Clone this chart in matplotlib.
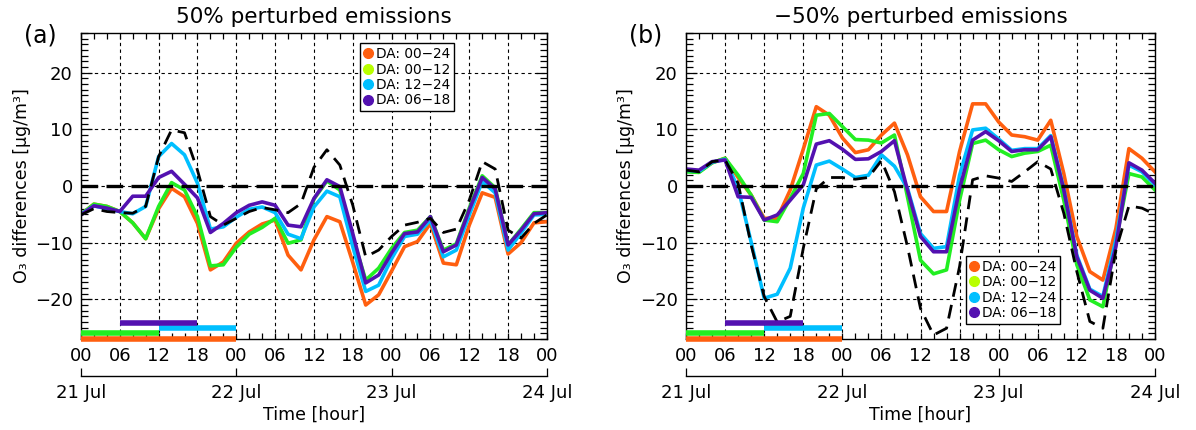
import matplotlib.pyplot as plt
from matplotlib.lines import Line2D
from matplotlib.ticker import MultipleLocator

# time axis, every 2 hours from 21 Jul 00:00
hours = list(range(0, 73, 2))

# (a) +50% perturbed emissions
orange_a = [-5.0, -3.2, -3.6, -4.5, -6.5, -9.3, -4.0, -0.4, -1.9, -6.6, -14.8, -13.4, -10.1,
            -8.1, -6.7, -6.0, -12.2, -14.8, -9.5, -5.4, -6.3, -13.5, -21.0, -19.2, -15.0,
            -10.7, -9.8, -6.6, -13.6, -13.9, -6.9, -1.2, -2.0, -12.0, -10.0, -6.5, -6.3]
green_a = [-5.0, -3.2, -3.6, -4.5, -6.5, -9.3, -3.6, 0.6, -0.7, -5.4, -14.1, -13.9, -10.8,
           -8.5, -7.3, -5.7, -10.1, -9.5, -2.3, 0.9, -0.7, -9.0, -16.6, -14.5, -11.0,
           -8.2, -7.8, -5.4, -11.3, -10.2, -3.9, 1.8, -0.3, -10.4, -7.6, -4.7, -4.7]
cyan_a = [-5.0, -3.5, -4.0, -4.5, -4.9, -3.6, 5.2, 7.5, 5.5, 0.5, -7.6, -7.2, -5.5,
          -4.1, -3.7, -4.7, -8.5, -9.3, -3.7, -0.9, -1.9, -10.7, -18.6, -17.5, -12.8,
          -8.9, -8.5, -6.0, -12.5, -11.3, -5.1, 0.8, -1.2, -11.3, -8.3, -5.1, -5.0]
purple_a = [-5.1, -3.5, -3.9, -4.5, -1.8, -1.8, 1.5, 2.6, 0.3, -2.1, -8.2, -6.6, -4.7,
            -3.4, -2.8, -3.4, -6.9, -7.2, -2.2, 1.1, -0.1, -8.4, -17.1, -15.7, -11.8,
            -8.4, -8.1, -5.4, -11.6, -10.4, -4.2, 1.5, -0.5, -10.4, -7.8, -4.9, -4.7]
dashed_a = [-5.1, -4.0, -4.5, -4.7, -4.8, -3.6, 5.2, 9.9, 9.4, 2.8, -5.4, -6.9, -5.7,
            -4.5, -3.8, -4.2, -4.7, -3.1, 3.3, 6.4, 3.7, -3.4, -12.5, -11.3, -8.9,
            -6.9, -6.4, -5.7, -8.2, -7.6, -2.5, 4.3, 3.0, -7.8, -9.2, -6.6, -5.1]

# (b) -50% perturbed emissions
orange_b = [2.8, 2.5, 4.1, 4.9, 1.5, -1.6, -5.7, -5.7, -0.7, 6.5, 14.0, 12.5, 8.5,
            5.9, 6.4, 9.0, 11.1, 5.5, -1.9, -4.5, -4.5, 6.1, 14.5, 14.5, 11.3,
            9.0, 8.7, 8.1, 11.6, 2.2, -8.9, -15.1, -16.6, -7.5, 6.6, 4.9, 2.5]
green_b = [2.5, 2.4, 4.1, 4.9, 1.9, -1.6, -6.0, -6.3, -2.2, 2.2, 12.5, 12.8, 10.5,
           8.2, 8.1, 7.6, 9.0, -1.9, -13.1, -15.5, -14.8, -2.5, 7.5, 8.1, 6.4,
           5.2, 5.8, 6.1, 7.2, -2.5, -13.9, -20.1, -21.3, -9.8, 2.2, 1.6, -0.7]
cyan_b = [2.8, 2.6, 4.2, 4.7, -0.4, -9.9, -19.8, -19.1, -14.5, -3.9, 3.7, 4.4, 3.0,
          1.5, 1.9, 5.5, 3.5, -0.4, -8.4, -11.0, -10.7, 1.9, 9.9, 10.2, 8.3,
          6.3, 6.6, 6.6, 8.9, -0.5, -12.2, -18.2, -19.5, -9.5, 3.7, 2.5, 0.2]
purple_b = [3.0, 2.8, 4.3, 4.6, -1.9, -2.0, -6.0, -5.1, -2.5, 0.2, 7.4, 8.0, 6.5,
            4.7, 4.8, 6.1, 8.0, -0.7, -8.9, -11.6, -11.6, -0.5, 8.1, 9.6, 8.0,
            6.1, 6.4, 6.4, 8.7, -0.7, -12.5, -18.4, -19.8, -10.7, 4.1, 2.8, 0.5]
dashed_b = [2.8, 2.5, 4.3, 4.6, 0.5, -10.4, -19.5, -24.0, -23.0, -11.0, -0.5, 1.5, 1.5,
            1.2, 1.5, 4.5, -1.0, -10.7, -21.6, -26.3, -25.1, -14.2, 1.1, 1.8, 1.4,
            0.8, 2.5, 4.3, 3.0, -4.8, -15.1, -23.9, -25.1, -11.3, -3.5, -3.9, -5.0]

da_labels = ['DA: 00\u221224', 'DA: 00\u221212', 'DA: 12\u221224', 'DA: 06\u221218']
da_start = [0, 0, 12, 6]
da_end = [24, 12, 24, 18]

hour_labels = ['00', '06', '12', '18'] * 3 + ['00']
day_ticks = [0, 24, 48, 72]
day_labels = ['21 Jul', '22 Jul', '23 Jul', '24 Jul']

line_colors = ['#FF5F0F', '#22EE22', '#00BFFF', '#5311B0']
marker_colors = ['#FF5F0F', '#B8FF00', '#00BFFF', '#5311B0']
bar_levels = [-27.0, -26.0, -25.1, -24.2]

plt.rcParams['font.family'] = ['DejaVu Sans']

fig = plt.figure(figsize=(11.96, 4.30), dpi=100)
ax_a = fig.add_axes([0.0677, 0.2116, 0.3896, 0.7116])
ax_b = fig.add_axes([0.5736, 0.2116, 0.3921, 0.7116])


def draw_panel(ax, series, dashed, title, tag, tag_x, leg_anchor, leg_loc):
    ax.set_xlim(0, 72)
    ax.set_ylim(-27, 27)
    ax.grid(True, which='major', color='k', lw=0.8, ls=(0, (3, 3)))
    ax.axhline(0, color='k', lw=2.4, ls=(0, (5, 2.5)), zorder=2.2)

    for vals, col in zip(series, line_colors):
        ax.plot(hours, vals, color=col, lw=2.6)
    ax.plot(hours, dashed, color='k', lw=2.0, ls=(0, (5, 3)), zorder=3)

    # assimilation windows drawn as bars along the bottom
    for s, e, lev, col in zip(da_start, da_end, bar_levels, line_colors):
        ax.plot([s, e], [lev, lev], color=col, lw=4, solid_capstyle='butt',
                clip_on=False, zorder=5)

    ax.xaxis.set_minor_locator(MultipleLocator(2))
    ax.set_xticks(range(0, 73, 6), labels=hour_labels)
    ax.yaxis.set_major_locator(MultipleLocator(10))
    ax.yaxis.set_minor_locator(MultipleLocator(1))
    ax.tick_params(which='both', direction='in', top=True, right=True,
                   labelsize=13, width=0.9)
    ax.tick_params(axis='y', which='major', length=8, pad=6)
    ax.tick_params(axis='y', which='minor', length=5)
    ax.tick_params(axis='x', which='both', length=4, pad=6)
    for sp in ax.spines.values():
        sp.set_linewidth(1.0)

    sec = ax.secondary_xaxis(-0.121)
    sec.set_xticks(day_ticks, labels=day_labels)
    sec.tick_params(direction='in', length=6, width=0.9, labelsize=13, pad=6)
    sec.spines['bottom'].set_linewidth(1.0)

    ax.text(0.5, -0.248, 'Time [hour]', transform=ax.transAxes,
            ha='center', va='center', fontsize=12.5)
    ax.text(-0.127, 0.5, 'O\u2083 differences [\u03bcg/m\u00b3]', transform=ax.transAxes,
            rotation=90, ha='center', va='center', fontsize=12.5)
    ax.text(0.5, 1.052, title, transform=ax.transAxes,
            ha='center', va='center', fontsize=15.5)
    fig.text(tag_x, 1 - 35 / 430, tag, ha='center', va='center', fontsize=17)

    handles = [Line2D([], [], marker='o', ls='none', color=c, markersize=7)
               for c in marker_colors]
    leg = ax.legend(handles, da_labels, loc=leg_loc, bbox_to_anchor=leg_anchor,
                    fontsize=9.8, frameon=True, fancybox=False, framealpha=1,
                    edgecolor='k', borderpad=0.3, handletextpad=0.25,
                    labelspacing=0.1, handlelength=0.6, borderaxespad=0)
    leg.get_frame().set_linewidth(1.0)
    leg.set_zorder(10)


draw_panel(ax_a, [orange_a, green_a, cyan_a, purple_a], dashed_a,
           '50% perturbed emissions', '(a)', 40 / 1196, (0.599, 0.967), 'upper left')
draw_panel(ax_b, [orange_b, green_b, cyan_b, purple_b], dashed_b,
           '\u221250% perturbed emissions', '(b)', 646 / 1196, (0.597, 0.049), 'lower left')

fig.savefig('out.png', dpi=100)
